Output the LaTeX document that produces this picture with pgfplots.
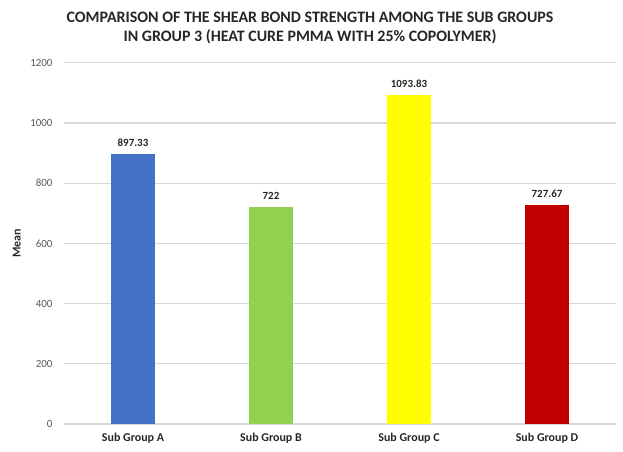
\documentclass[border=0pt]{standalone}
\usepackage{pgfplots}
\pgfplotsset{compat=1.18}
\usepackage{fontspec}
\setmainfont{Carlito}
\definecolor{barA}{HTML}{4472C4}
\definecolor{barB}{HTML}{92D050}
\definecolor{barC}{HTML}{FFFF00}
\definecolor{barD}{HTML}{C00000}
\definecolor{gridc}{HTML}{D9D9D9}
\definecolor{tickc}{HTML}{595959}

\begin{document}
\begin{tikzpicture}[x=1bp,y=1bp]
\useasboundingbox (0,0) rectangle (623,452);
% chart title
\node[anchor=base, font=\bfseries\fontsize{16}{19}\selectfont, text=black!85] at (310,429.3)
  {COMPARISON OF THE SHEAR BOND STRENGTH AMONG THE SUB GROUPS};
\node[anchor=base, font=\bfseries\fontsize{16}{19}\selectfont, text=black!85] at (310,410.3)
  {IN GROUP 3 (HEAT CURE PMMA WITH 25\% COPOLYMER)};
\begin{axis}[
  at={(64bp,28bp)}, anchor=south west,
  scale only axis, width=552bp, height=361.3bp,
  xmin=-0.5, xmax=3.5, ymin=0, ymax=1200,
  ytick={0,200,...,1200},
  xtick={0,1,2,3},
  xticklabels={Sub Group A,Sub Group B,Sub Group C,Sub Group D},
  /pgf/number format/assume math mode=true,
  /pgf/number format/1000 sep={},
  axis line style={draw=none},
  major tick length=0pt,
  ymajorgrids, grid style={gridc, line width=1.2bp},
  yticklabel style={font=\fontsize{11}{13}\selectfont, text=tickc, xshift=-8bp},
  xticklabel style={font=\bfseries\fontsize{12}{14}\selectfont, text=black!85, yshift=-6bp},
  ylabel={Mean},
  ylabel style={at={(axis description cs:-0.0857,0.5)}, anchor=center,
    font=\bfseries\fontsize{12}{14}\selectfont, text=black!85},
  ybar, bar width=44bp,
  point meta=explicit symbolic,
  nodes near coords,
  nodes near coords style={font=\bfseries\fontsize{11}{13}\selectfont, text=black!85, yshift=4bp},
]
\addplot[fill=barA, draw=none, bar shift=0pt] coordinates {(0,897.33) [897.33]};
\addplot[fill=barB, draw=none, bar shift=0pt] coordinates {(1,722) [722]};
\addplot[fill=barC, draw=none, bar shift=0pt] coordinates {(2,1093.83) [1093.83]};
\addplot[fill=barD, draw=none, bar shift=0pt] coordinates {(3,727.67) [727.67]};
\end{axis}
\end{tikzpicture}
\end{document}
